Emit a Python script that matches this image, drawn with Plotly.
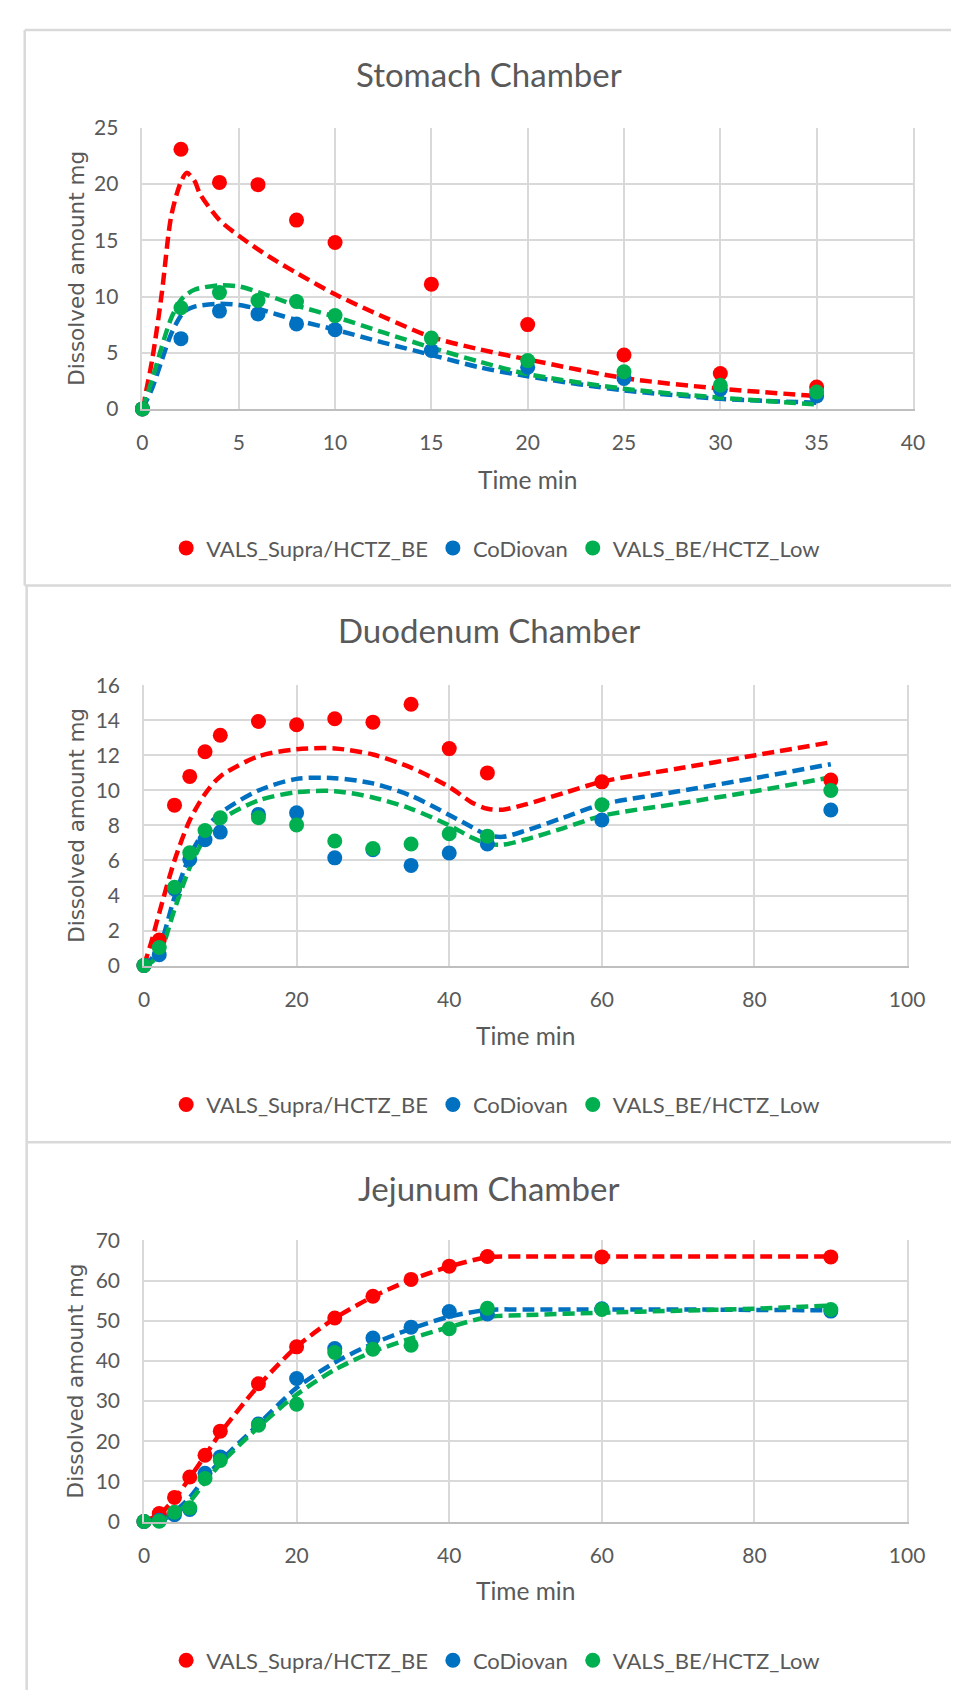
import plotly.graph_objects as go

# ---------------- data ----------------
series_names = ["VALS_Supra/HCTZ_BE", "CoDiovan", "VALS_BE/HCTZ_Low"]
series_colors = ["#FF0000", "#0070C0", "#00B050"]

# Stomach chamber (measured points)
t_stomach = [0, 2, 4, 6, 8, 10, 15, 20, 25, 30, 35]
stomach_supra = [0, 23.1, 20.15, 19.95, 16.8, 14.8, 11.1, 7.5, 4.8, 3.15, 1.95]
stomach_codiovan = [0, 6.25, 8.7, 8.45, 7.55, 7.05, 5.2, 3.7, 2.7, 1.75, 1.15]
stomach_low = [0, 9.0, 10.35, 9.65, 9.55, 8.3, 6.3, 4.3, 3.3, 2.1, 1.5]
# Stomach chamber (model curves)
tc_stomach = [0, 0.5, 1, 1.5, 2, 2.3, 2.7, 3, 4, 5, 6, 7, 8, 10, 12.5, 15, 17.5, 20, 25, 30, 35]
curve_stomach_supra = [0, 4.3, 10.2, 17.2, 20.2, 21.0, 20.3, 19.1, 16.8, 15.4, 14.2, 13.1, 12.1, 10.2, 8.2, 6.4, 5.3, 4.4, 2.75, 1.8, 1.15]
curve_stomach_codiovan = [0, 1.8, 4.3, 6.7, 8.3, 8.8, 9.1, 9.2, 9.35, 9.25, 8.9, 8.4, 7.9, 7.05, 5.9, 4.8, 3.7, 2.9, 1.65, 0.9, 0.55]
curve_stomach_low = [0, 2.6, 5.5, 8.1, 9.7, 10.2, 10.6, 10.75, 11.0, 10.9, 10.4, 9.8, 9.2, 8.2, 6.8, 5.45, 4.2, 3.1, 1.8, 1.0, 0.4]

# Duodenum chamber (measured points)
t_duo = [0, 2, 4, 6, 8, 10, 15, 20, 25, 30, 35, 40, 45, 60, 90]
duo_supra = [0, 1.46, 9.16, 10.8, 12.21, 13.15, 13.94, 13.75, 14.09, 13.9, 14.92, 12.39, 11.0, 10.49, 10.59]
duo_codiovan = [0, 0.62, 4.37, 6.06, 7.19, 7.62, 8.63, 8.72, 6.15, 6.62, 5.72, 6.43, 6.94, 8.31, 8.88]
duo_low = [0, 1.03, 4.47, 6.44, 7.71, 8.44, 8.44, 8.03, 7.11, 6.68, 6.94, 7.53, 7.39, 9.18, 10.0]
# Duodenum chamber (model curves)
tc_duo = [0, 1, 2, 4, 6, 8, 10, 15, 20, 25, 30, 35, 40, 43, 45, 47, 50, 55, 60, 70, 80, 90]
curve_duo_supra = [0, 1.4, 3.0, 6.0, 8.3, 9.8, 10.8, 11.95, 12.35, 12.4, 12.05, 11.3, 10.2, 9.3, 8.95, 8.9, 9.2, 9.85, 10.5, 11.25, 12.0, 12.75]
curve_duo_codiovan = [0, 0.4, 1.0, 3.9, 6.25, 7.75, 8.7, 10.0, 10.66, 10.7, 10.4, 9.7, 8.6, 7.9, 7.45, 7.35, 7.7, 8.45, 9.2, 9.95, 10.7, 11.5]
curve_duo_low = [0, 0.2, 0.6, 3.2, 5.6, 7.3, 8.3, 9.43, 9.9, 9.96, 9.6, 8.95, 8.0, 7.3, 6.95, 6.9, 7.2, 7.85, 8.55, 9.25, 9.95, 10.75]

# Jejunum chamber (measured points)
t_jej = [0, 2, 4, 6, 8, 10, 15, 20, 25, 30, 35, 40, 45, 60, 90]
jej_supra = [0, 2.0, 6.0, 11.1, 16.5, 22.5, 34.3, 43.5, 50.7, 56.1, 60.3, 63.6, 66.0, 65.9, 65.9]
jej_codiovan = [0, 0.3, 1.7, 3.0, 12.0, 16.1, 24.3, 35.6, 43.1, 45.7, 48.4, 52.3, 51.7, 53.0, 52.4]
jej_low = [0, 0.1, 2.3, 3.4, 10.7, 15.2, 24.0, 29.2, 42.1, 42.9, 43.9, 48.0, 53.1, 52.8, 52.8]
# Jejunum chamber (model curves)
tc_jej = [0, 2, 4, 6, 8, 10, 15, 20, 25, 30, 35, 40, 45, 50, 60, 70, 80, 90]
curve_jej_supra = [0, 1.8, 5.6, 10.9, 16.4, 22.0, 33.8, 43.5, 50.6, 56.0, 60.2, 63.5, 65.8, 66.0, 66.0, 66.0, 66.0, 66.0]
curve_jej_codiovan = [0, 0.5, 2.5, 6.0, 10.8, 15.0, 24.2, 33.3, 39.6, 44.3, 48.0, 51.0, 52.7, 52.8, 52.8, 52.8, 52.7, 52.6]
curve_jej_low = [0, 0.3, 1.8, 5.0, 9.8, 14.3, 23.5, 31.6, 37.8, 42.3, 45.6, 48.4, 50.9, 51.4, 52.0, 52.5, 53.0, 53.8]

panel_titles = ["Stomach Chamber", "Duodenum Chamber", "Jejunum Chamber"]
x_title = "Time min"
y_title = "Dissolved amount mg"

# ---------------- layout helpers ----------------
W, H = 961, 1693
TXT = "#595959"
GRID = "#D9D9D9"

def fx(p):
    return p / W

def fy(p):
    return 1 - p / H

panels = [
    dict(t=t_stomach, pts=[stomach_supra, stomach_codiovan, stomach_low],
         tc=tc_stomach, crv=[curve_stomach_supra, curve_stomach_codiovan, curve_stomach_low],
         xd=(131.7, 922.0), yd=(392.7, 107.5), xr=[0, 40], xdt=5, yr=[0, 25], ydt=5,
         title_y=53, xt=(527, 464), legend_y=534),
    dict(t=t_duo, pts=[duo_supra, duo_codiovan, duo_low],
         tc=tc_duo, crv=[curve_duo_supra, curve_duo_codiovan, curve_duo_low],
         xd=(133.3, 916.0), yd=(957.7, 673.3), xr=[0, 100], xdt=20, yr=[0, 16], ydt=2,
         title_y=617, xt=(525, 1029), legend_y=1099),
    dict(t=t_jej, pts=[jej_supra, jej_codiovan, jej_low],
         tc=tc_jej, crv=[curve_jej_supra, curve_jej_codiovan, curve_jej_low],
         xd=(133.3, 916.0), yd=(1522.0, 1236.7), xr=[0, 100], xdt=20, yr=[0, 70], ydt=10,
         title_y=1183, xt=(525, 1592), legend_y=1663),
]

fig = go.Figure()
annotations = []
layout_axes = {}

for i, p in enumerate(panels):
    n = "" if i == 0 else str(i + 1)
    xa, ya = "x" + n, "y" + n
    leg = "legend" + n
    # model curves
    for k in range(3):
        fig.add_trace(go.Scatter(
            x=p["tc"], y=p["crv"][k], mode="lines", xaxis=xa, yaxis=ya,
            line=dict(color=series_colors[k], width=4.5, dash="12px,6px", shape="spline", smoothing=0.8),
            showlegend=False, hoverinfo="skip"))
    # measured points
    for k in range(3):
        fig.add_trace(go.Scatter(
            x=p["t"], y=p["pts"][k], mode="markers", xaxis=xa, yaxis=ya,
            name=series_names[k], legend=leg,
            marker=dict(color=series_colors[k], size=15, line=dict(width=0)),
            cliponaxis=False))

    layout_axes["xaxis" + n] = dict(
        domain=[fx(p["xd"][0]), fx(p["xd"][1])], anchor=ya, range=p["xr"], dtick=p["xdt"],
        tick0=0, showgrid=True, gridcolor=GRID, gridwidth=1.5, zeroline=False,
        showline=True, linecolor="#BFBFBF", linewidth=2, ticks="",
        ticklabelstandoff=14, tickfont=dict(family="Lato", size=21, color=TXT), fixedrange=True)
    layout_axes["yaxis" + n] = dict(
        domain=[fy(p["yd"][0]), fy(p["yd"][1])], anchor=xa, range=p["yr"], dtick=p["ydt"],
        tick0=0, showgrid=True, gridcolor=GRID, gridwidth=1.5, zeroline=False,
        showline=True, linecolor=GRID, linewidth=1.5, mirror=True, ticks="",
        ticklabelstandoff=18, tickfont=dict(family="Lato", size=21, color=TXT), fixedrange=True)
    layout_axes[leg] = dict(
        orientation="h", x=fx(494), y=fy(p["legend_y"]), xanchor="center", yanchor="middle",
        font=dict(family="Lato", size=22, color=TXT), bgcolor="rgba(0,0,0,0)",
        itemclick=False, itemdoubleclick=False)

    annotations.append(dict(text=panel_titles[i], x=fx(487), y=fy(p["title_y"]),
                            xref="paper", yref="paper", xanchor="center", yanchor="middle",
                            showarrow=False, font=dict(family="Lato", size=33, color=TXT)))
    annotations.append(dict(text=x_title, x=fx(p["xt"][0]), y=fy(p["xt"][1]),
                            xref="paper", yref="paper", xanchor="center", yanchor="middle",
                            showarrow=False, font=dict(family="Lato", size=24.5, color=TXT)))
    annotations.append(dict(text=y_title, x=fx(64), y=fy((p["yd"][0] + p["yd"][1]) / 2),
                            xref="paper", yref="paper", xanchor="center", yanchor="middle",
                            textangle=-90, showarrow=False,
                            font=dict(family="DejaVu Sans", size=21.5, color=TXT)))

border = dict(color="#D9D9D9", width=2.5)
shapes = [
    dict(type="line", xref="paper", yref="paper", x0=fx(11), x1=1, y0=fy(8), y1=fy(8), line=border),
    dict(type="line", xref="paper", yref="paper", x0=fx(11), x1=fx(11), y0=fy(8), y1=fy(572), line=border),
    dict(type="line", xref="paper", yref="paper", x0=fx(11), x1=1, y0=fy(572), y1=fy(572), line=border),
    dict(type="line", xref="paper", yref="paper", x0=fx(13), x1=fx(13), y0=fy(572), y1=fy(1137), line=border),
    dict(type="line", xref="paper", yref="paper", x0=fx(13), x1=1, y0=fy(1137), y1=fy(1137), line=border),
    dict(type="line", xref="paper", yref="paper", x0=fx(13), x1=fx(13), y0=fy(1137), y1=0, line=border),
]

fig.update_layout(
    width=W, height=H, margin=dict(l=0, r=0, t=0, b=0),
    paper_bgcolor="white", plot_bgcolor="white",
    annotations=annotations, shapes=shapes, hovermode=False,
    font=dict(family="Lato", color=TXT),
    **layout_axes)

fig.write_html("out.html", config={"displayModeBar": False})
